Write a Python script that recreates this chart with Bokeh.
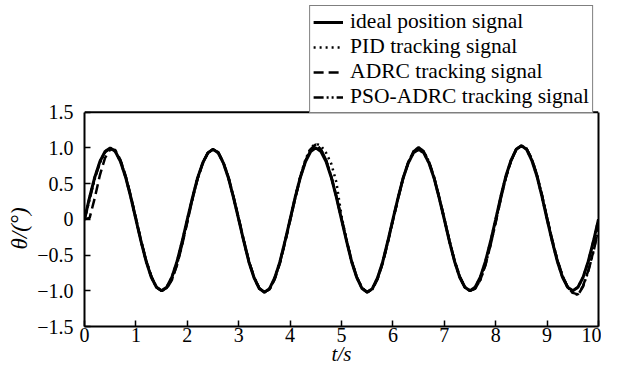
from bokeh.plotting import figure
from bokeh.models import Range1d, FixedTicker, Legend, LegendItem, LinearAxis, Span, Title
from bokeh.embed import file_html
from bokeh.resources import INLINE

# sample times (s)
t = [round(i * 0.1, 1) for i in range(101)]

ideal = [0, .31, .59, .81, .95, 1.00, .95, .81, .59, .31, 0, -.31, -.59, -.81, -.95, -1.00, -.95, -.81, -.59, -.31,
         0, .30, .58, .79, .93, .98, .93, .79, .58, .30, 0, -.31, -.60, -.82, -.97, -1.02, -.97, -.82, -.60, -.31,
         0, .31, .59, .81, .95, 1.00, .95, .81, .59, .31, 0, -.31, -.60, -.82, -.97, -1.02, -.97, -.82, -.60, -.31,
         0, .30, .58, .79, .93, .98, .93, .79, .58, .30, 0, -.31, -.59, -.81, -.95, -1.00, -.95, -.81, -.59, -.31,
         0, .32, .61, .83, .98, 1.03, .98, .83, .61, .32, 0, -.31, -.59, -.81, -.95, -1.00, -.95, -.81, -.59, -.31, 0]

pid = [0, .31, .59, .81, .95, 1.00, .95, .81, .59, .31, 0, -.31, -.59, -.81, -.95, -1.00, -.95, -.81, -.59, -.31,
       0, .30, .58, .79, .93, .98, .93, .79, .58, .30, 0, -.31, -.60, -.82, -.97, -1.02, -.97, -.82, -.60, -.31,
       0, .32, .61, .84, 1.00, 1.06, 1.03, .93, .78, .52, .05, -.30, -.60, -.82, -.97, -1.02, -.97, -.82, -.60, -.31,
       0, .30, .58, .79, .93, .98, .93, .79, .58, .30, 0, -.31, -.59, -.81, -.95, -1.00, -.95, -.81, -.59, -.31,
       0, .32, .61, .83, .98, 1.03, .98, .83, .61, .32, 0, -.31, -.59, -.81, -.95, -1.00, -.95, -.81, -.59, -.31, 0]

adrc = [0, .02, .30, .62, .86, .98, .97, .83, .61, .33, .02, -.30, -.58, -.80, -.95, -1.00, -.97, -.85, -.64, -.36,
        -.04, .28, .57, .78, .93, .98, .94, .80, .59, .31, .01, -.30, -.59, -.81, -.96, -1.02, -.98, -.84, -.62, -.33,
        -.02, .30, .59, .82, .98, 1.05, .98, .83, .60, .32, .01, -.30, -.59, -.81, -.96, -1.02, -.98, -.84, -.62, -.33,
        -.02, .29, .58, .80, .95, 1.01, .95, .81, .59, .31, .01, -.30, -.58, -.80, -.95, -1.00, -.97, -.85, -.64, -.36,
        -.04, .29, .59, .82, .98, 1.03, .99, .85, .63, .34, .02, -.29, -.57, -.79, -.95, -1.03, -1.05, -.93, -.72, -.45, -.12]

pso_adrc = [0, .28, .57, .79, .94, .99, .95, .82, .60, .32, .01, -.30, -.58, -.80, -.95, -1.00, -.96, -.84, -.63, -.35,
            -.03, .29, .57, .79, .93, .98, .94, .80, .59, .31, .01, -.30, -.59, -.81, -.96, -1.02, -.98, -.83, -.61, -.32,
            -.01, .30, .59, .82, .98, 1.05, .98, .83, .60, .32, .01, -.30, -.59, -.81, -.96, -1.02, -.98, -.83, -.61, -.32,
            -.01, .29, .58, .80, .95, 1.01, .95, .81, .59, .31, .01, -.30, -.58, -.80, -.95, -1.00, -.97, -.85, -.64, -.36,
            -.04, .29, .59, .82, .98, 1.03, .99, .85, .63, .34, .02, -.29, -.57, -.79, -.95, -1.03, -1.06, -.94, -.73, -.46, -.13]

x_ticks = [0, 1, 2, 3, 4, 5, 6, 7, 8, 9, 10]
y_ticks = [-1.5, -1.0, -0.5, 0, 0.5, 1.0, 1.5]
y_tick_labels = ["\u22121.5", "\u22121.0", "\u22120.5", "0", "0.5", "1.0", "1.5"]
y_min, y_max = -1.5, 1.5

legend_labels = ["ideal position signal", "PID tracking signal",
                 "ADRC tracking signal", "PSO-ADRC tracking signal"]

FONT = "Liberation Serif"

# frame spans the full height so the legend above the data box is not clipped
FRAME_H = 327          # px (measured frame height)
TOP_GAP = 112          # px between canvas top and the data box
top_extent = y_max + (y_max - y_min) * TOP_GAP / (FRAME_H - TOP_GAP)

p = figure(width=601, height=368, output_backend="svg", toolbar_location=None,
           x_range=Range1d(0, 10), y_range=Range1d(y_min, top_extent),
           min_border_left=84, min_border_right=3, min_border_top=0, min_border_bottom=40)

p.xgrid.visible = False
p.ygrid.visible = False
p.outline_line_color = None
p.background_fill_color = "white"
p.border_fill_color = "white"

for ax in (p.xaxis[0], p.yaxis[0]):
    ax.axis_line_width = 2
    ax.axis_line_color = "black"
    ax.major_tick_in = 6
    ax.major_tick_out = 0
    ax.major_tick_line_width = 1.5
    ax.minor_tick_line_color = None
    ax.major_label_text_font = FONT
    ax.major_label_text_font_size = "20px"
    ax.major_label_text_color = "black"
    ax.axis_label_text_font = FONT
    ax.axis_label_text_font_size = "21px"
    ax.axis_label_text_font_style = "italic"
    ax.axis_label_text_color = "black"

p.yaxis.bounds = (y_min, y_max)
p.xaxis.ticker = FixedTicker(ticks=x_ticks)
p.yaxis.ticker = FixedTicker(ticks=y_ticks)
p.yaxis.major_label_overrides = {v: s for v, s in zip(y_ticks, y_tick_labels)}
p.xaxis.axis_label = "t/s"
p.xaxis.major_label_standoff = 1
p.xaxis.axis_label_standoff = -3
p.yaxis.major_label_standoff = 11

# y-axis title placed alongside the data box (not the taller frame)
ytitle = Title(text="\u03b8/(\u00b0)", align="left", offset=77, standoff=6,
               text_font=FONT, text_font_size="23px", text_font_style="italic",
               text_color="black")
p.add_layout(ytitle, "left")

# right border of the data box
right_ax = LinearAxis(bounds=(y_min, y_max), ticker=FixedTicker(ticks=[]),
                      axis_line_width=2, axis_line_color="black",
                      major_tick_in=0, major_tick_out=0, minor_tick_line_color=None,
                      major_label_standoff=0, major_label_text_font_size="0px")
p.add_layout(right_ax, "right")
# top border of the data box
p.add_layout(Span(location=y_max, dimension="width", line_color="black", line_width=2))

r0 = p.line(t, ideal, line_color="black", line_width=3)
r1 = p.line(t, pid, line_color="black", line_width=2.5, line_dash="2 4")
r2 = p.line(t, adrc, line_color="black", line_width=2.5, line_dash="10 5")
r3 = p.line(t, pso_adrc, line_color="black", line_width=2.5, line_dash="10 3 2 3 2 3")

legend = Legend(items=[LegendItem(label=lbl, renderers=[r]) for lbl, r in zip(legend_labels, [r0, r1, r2, r3])],
                location="top_right", margin=5, padding=3, spacing=0,
                glyph_width=30, glyph_height=20, label_height=20, label_standoff=7,
                label_text_font=FONT, label_text_font_size="21.5px", label_text_color="black",
                border_line_color="black", border_line_width=1.5,
                background_fill_color="white", background_fill_alpha=1.0)
p.add_layout(legend, "center")

open("out.html", "w").write(file_html(p, INLINE))
